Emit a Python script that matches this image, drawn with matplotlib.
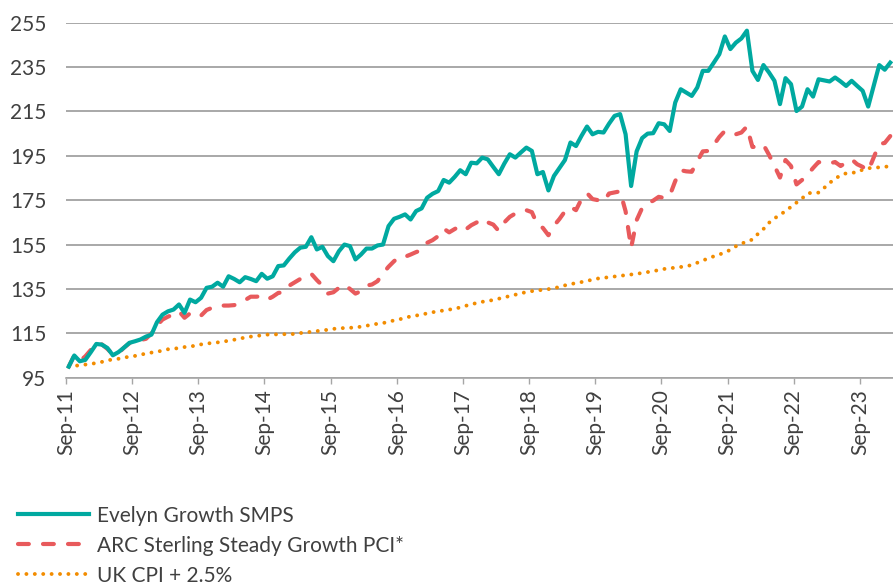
import matplotlib
matplotlib.use("Agg")
import matplotlib.pyplot as plt
import numpy as np

plt.rcParams["font.family"] = ["Lato", "DejaVu Sans"]

# monthly index values, Sep-2011 .. Feb-2024 (rebased to 100)
evelyn = [
    100, 105, 102.4, 103, 106.5, 110.2, 109.9, 108.4, 105.1, 106.5,
    108.5, 110.7, 111.4, 112.2, 113.5, 114.4, 120, 123.4, 124.9, 125.7,
    128, 124.2, 130.2, 129, 131, 135.5, 136, 137.8, 136, 140.7,
    139.5, 138, 140.3, 139.5, 138.5, 141.8, 139.6, 140.7, 145.3, 145.6,
    148.7, 151.5, 153.6, 154, 158.3, 152.8, 154, 149.8, 147.5, 152,
    155, 154.3, 148.3, 150.5, 153.2, 153.2, 154.6, 155, 163.3, 166.6,
    167.5, 168.6, 166.3, 170.1, 171.3, 176.1, 177.9, 179.1, 184.1, 182.9,
    185.5, 188.5, 186.7, 191.9, 191.6, 194.2, 193.4, 190, 186.7, 191.5,
    195.7, 194.2, 196.5, 198.7, 197.2, 186.7, 187.7, 179.4, 185.9, 189.5,
    193.1, 201, 199.4, 204, 208.2, 204.7, 205.8, 205.5, 209.5, 213,
    213.8, 204.7, 181.4, 197, 203, 205, 205.2, 209.7, 209.2, 206.2,
    219, 225, 223.5, 222, 225.8, 233.3, 233.3, 237, 240.8, 248.8,
    243.1, 246, 247.9, 251.4, 233.3, 229.2, 235.9, 232.6, 228.8, 218.3,
    230, 227.3, 215.2, 217.2, 225, 221.7, 229.5, 229, 228.5, 230.3,
    228.5, 226.5, 228.8, 226.5, 224.3, 217.2, 226.5, 235.9, 233.8, 237,
]

arc = [
    100, 105, 102.5, 104.6, 107.5, 110.5, 110, 108, 105.5, 106,
    108.5, 110.5, 111, 112, 112.5, 115, 118.5, 121.2, 122.5, 123.5,
    124.9, 122, 124, 122.5, 123, 125.5, 126.5, 127.3, 127.5, 127.5,
    127.7, 128.5, 130, 131.5, 131.5, 131.7, 130.2, 131.5, 133.2, 133.5,
    136.5, 138, 139.5, 140.3, 141.8, 139, 136.5, 132.9, 133.5, 135.5,
    137, 135, 132.9, 134, 136.5, 137, 138.5, 142, 145, 147.5,
    149.5, 149.5, 150.5, 151.6, 152.5, 155.8, 157, 158.8, 162.2, 160.5,
    162, 163.3, 161.8, 163.7, 165, 166.6, 165, 164, 161.1, 165,
    167.5, 169, 170, 170.5, 169.6, 164, 162.5, 159.2, 163.5, 166.5,
    170, 172, 170.5, 175.5, 178.2, 175.5, 175, 174.3, 178, 178.5,
    179, 170, 153.5, 166, 171.5, 173.5, 174.8, 176.5, 176, 177,
    183.6, 188.5, 188, 187.8, 192.5, 197, 197.2, 200, 203.5, 206.2,
    205.5, 204.7, 205.5, 208.2, 199, 199, 200, 195.5, 190.5, 185.2,
    193.1, 190.4, 182.1, 184.1, 186.5, 189.5, 192.2, 191.5, 191.6, 192.2,
    190.4, 192, 193.4, 191.2, 190, 188.2, 194.2, 200.3, 200.8, 203.9,
]

cpi = [
    100, 100.3, 100.6, 100.9, 101.2, 101.6, 102.1, 102.8, 103.2, 103.5,
    104.1, 104.4, 104.8, 105.3, 105.9, 106.3, 106.7, 107.2, 107.8, 108.1,
    108.3, 108.8, 109.1, 109.4, 110.0, 110.3, 110.7, 110.9, 111.2, 111.7,
    112.1, 112.6, 113.1, 113.5, 113.8, 114.1, 114.4, 114.5, 114.5, 114.6,
    114.6, 114.7, 115.1, 115.4, 115.7, 116.0, 116.3, 116.6, 117.0, 117.2,
    117.4, 117.5, 117.6, 118.0, 118.4, 118.9, 119.3, 119.6, 120.2, 120.8,
    121.3, 122.0, 122.6, 123.0, 123.4, 124.0, 124.5, 124.9, 125.3, 125.7,
    126.0, 126.7, 127.4, 128.0, 128.7, 129.2, 129.6, 130.0, 130.6, 131.2,
    131.8, 132.4, 133.0, 133.6, 134.0, 134.3, 134.6, 134.9, 135.3, 135.9,
    136.6, 137.2, 137.6, 138.1, 138.6, 139.2, 139.7, 140.0, 140.3, 140.6,
    140.9, 141.2, 141.5, 141.8, 142.2, 142.6, 143.0, 143.5, 144.0, 144.3,
    144.6, 144.9, 145.2, 145.8, 146.8, 147.8, 148.8, 149.7, 150.5, 151.5,
    152.6, 154.2, 155.5, 156.2, 157.3, 159.8, 162.0, 164.8, 166.8, 168.4,
    170.1, 172.0, 173.9, 175.8, 178.0, 178.5, 178.4, 180.5, 182.8, 184.6,
    186.3, 187.1, 187.4, 187.5, 188.8, 189.4, 189.6, 189.8, 190.0, 190.4,
]

tick_labels = ["Sep-11", "Sep-12", "Sep-13", "Sep-14", "Sep-15", "Sep-16", "Sep-17",
               "Sep-18", "Sep-19", "Sep-20", "Sep-21", "Sep-22", "Sep-23"]
yticks = [95, 115, 135, 155, 175, 195, 215, 235, 255]

x = np.arange(len(evelyn))
text_col = "#404040"

fig = plt.figure(figsize=(8.93, 5.88), dpi=100)
ax = fig.add_axes([0.0739, 0.3577, 0.9261, 0.6037])

ax.grid(axis="y", color="#9a9a9a", linewidth=1.2, zorder=0)
ax.plot(x, cpi, color="#F28C00", linewidth=2.8, dashes=(0.01, 2.15),
        dash_capstyle="round", label="UK CPI + 2.5%", zorder=2)
ax.plot(x, arc, color="#E85A5C", linewidth=3.0, dashes=(2.6, 3.4),
        dash_capstyle="round", label="ARC Sterling Steady Growth PCI*", zorder=3)
ax.plot(x, evelyn, color="#00A9A0", linewidth=3.0, solid_joinstyle="round",
        label="Evelyn Growth SMPS", zorder=4)

ax.set_ylim(95, 255)
ax.set_yticks(yticks)
ax.set_xlim(-0.5, len(evelyn) - 0.5)
ax.set_xticks(np.arange(0, len(evelyn), 12) - 0.5)
ax.set_xticklabels(tick_labels, rotation=90)

for s in ["left", "right", "top"]:
    ax.spines[s].set_visible(False)
ax.spines["bottom"].set_color("#a6a6a6")
ax.spines["bottom"].set_linewidth(1.2)
ax.tick_params(axis="y", length=0, pad=14, labelsize=15, labelcolor=text_col)
ax.tick_params(axis="x", length=4, width=1, color="#a6a6a6", pad=4,
               labelsize=15, labelcolor=text_col)

handles, labels = ax.get_legend_handles_labels()
fig.legend(handles[::-1], labels[::-1], loc="upper left",
           bbox_to_anchor=(0.02, 0.14), frameon=False, fontsize=15,
           handlelength=3.4, handletextpad=0.4, labelspacing=0.48,
           borderpad=0, borderaxespad=0, labelcolor=text_col)

fig.savefig("out.png", dpi=100)
